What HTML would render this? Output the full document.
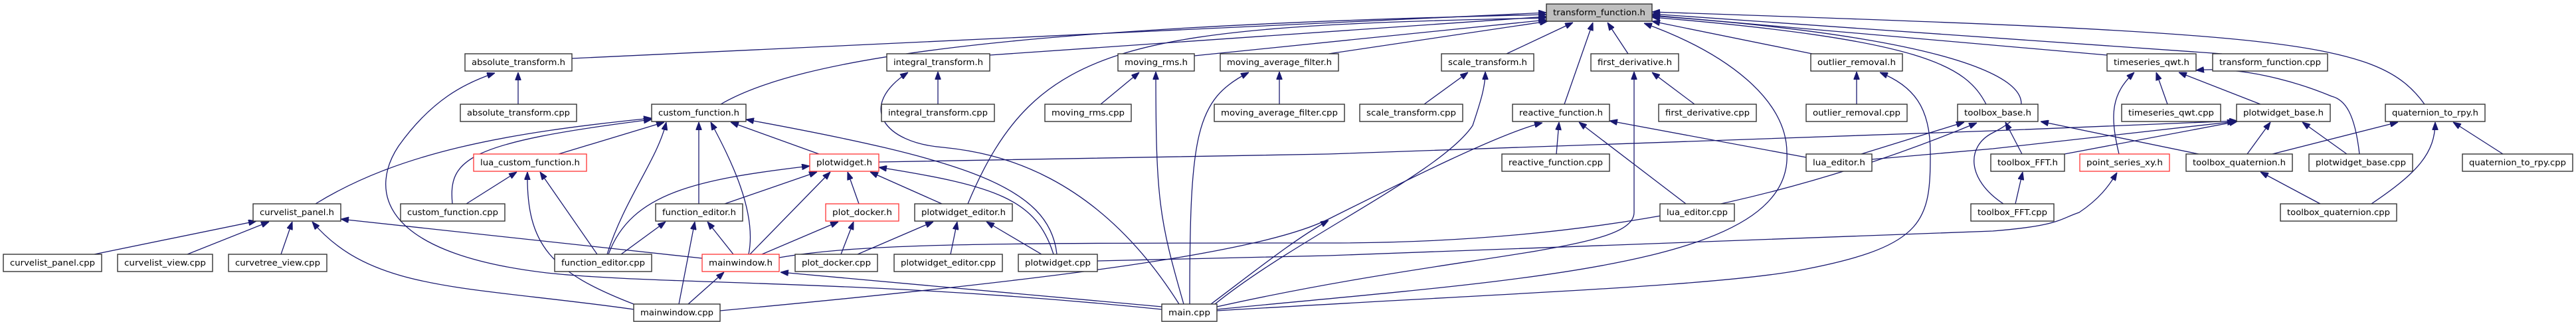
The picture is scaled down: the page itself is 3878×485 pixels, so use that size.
<!DOCTYPE html>
<html><head><meta charset="utf-8"><style>
html,body{margin:0;padding:0;background:#fff;width:3878px;height:485px;overflow:hidden}
svg{display:block}
text{font-family:"DejaVu Sans","Liberation Sans",sans-serif;font-size:12px;fill:#000}
.e{fill:none;stroke:#191970;stroke-width:1.3;marker-end:url(#a)}
.n{fill:#fff;stroke:#333;stroke-width:1.4}
.r{fill:#fff;stroke:#ff3333;stroke-width:1.3}
</style></head><body>
<svg width="3878" height="485" viewBox="0 0 3878 485" xmlns="http://www.w3.org/2000/svg">
<defs><marker id="a" markerUnits="userSpaceOnUse" viewBox="0 0 12 9" refX="12" refY="4.5" markerWidth="12" markerHeight="9" orient="auto"><path d="M0,0 L12,4.5 L0,9z" fill="#191970" stroke="#191970"/></marker></defs>
<g>
<path class="e" d="M861 88 L2328 19"/>
<path class="e" d="M1085 157 C1200 90,1500 40,2328 22"/>
<path class="e" d="M1490 83 L2328 25"/>
<path class="e" d="M1457 307 C1560 60,1700 40,2328 27"/>
<path class="e" d="M1798 84 L2328 30"/>
<path class="e" d="M2000 81 L2330 32"/>
<path class="e" d="M2268 81 L2368 34"/>
<path class="e" d="M2355 157 L2398 34"/>
<path class="e" d="M2451 81 L2420 34"/>
<path class="e" d="M1832 466 C2300 420,2700 400,2690 230 C2690 150,2600 80,2475 35"/>
<path class="e" d="M2728 81 L2487 32"/>
<path class="e" d="M2990 157 C2960 100,2900 60,2487 26"/>
<path class="e" d="M3016 307 C2960 270,2960 220,3000 200 C3120 140,3000 60,2487 24"/>
<path class="e" d="M3172 83 L2487 23"/>
<path class="e" d="M3345 81 L2487 21"/>
<path class="e" d="M3650 157 C3580 60,3450 50,2487 18"/>
<path class="e" d="M780 157 L780 109"/>
<path class="e" d="M1749 466 C1300 420,1000 430,823 411 C560 380,560 280,600 220 C650 150,700 125,745 110"/>
<path class="e" d="M475 307 C600 230,760 200,981 178"/>
<path class="e" d="M681 307 C675 240,700 215,981 180"/>
<path class="e" d="M841 232 L1000 184"/>
<path class="e" d="M914 383 C940 300,990 240,1003 184"/>
<path class="e" d="M1052 307 L1052 184"/>
<path class="e" d="M1127 383 C1140 320,1100 240,1070 184"/>
<path class="e" d="M1233 232 L1100 184"/>
<path class="e" d="M1591 383 C1580 280,1450 240,1123 180"/>
<path class="e" d="M702 307 L778 259"/>
<path class="e" d="M899 383 L813 259"/>
<path class="e" d="M954 458 C830 410,792 370,794 259"/>
<path class="e" d="M142 383 L386 333"/>
<path class="e" d="M282 383 L405 334"/>
<path class="e" d="M423 383 L440 334"/>
<path class="e" d="M954 466 C700 430,560 440,470 334"/>
<path class="e" d="M1057 389 L513 330"/>
<path class="e" d="M935 383 L1002 334"/>
<path class="e" d="M1022 458 L1046 334"/>
<path class="e" d="M1104 383 L1065 334"/>
<path class="e" d="M916 383 C950 290,1050 270,1219 250"/>
<path class="e" d="M1091 307 L1230 259"/>
<path class="e" d="M1129 383 L1250 259"/>
<path class="e" d="M1293 307 L1276 259"/>
<path class="e" d="M1418 307 L1310 259"/>
<path class="e" d="M1586 383 C1560 300,1500 280,1323 252"/>
<path class="e" d="M1323 244 L2000 232 L3000 197 L3368 182"/>
<path class="e" d="M1036 458 L1090 410"/>
<path class="e" d="M1749 462 L1175 410"/>
<path class="e" d="M1147 383 L1262 334"/>
<path class="e" d="M1266 383 L1285 334"/>
<path class="e" d="M1291 383 L1405 334"/>
<path class="e" d="M1431 383 L1441 334"/>
<path class="e" d="M1568 383 L1485 334"/>
<path class="e" d="M1412 157 L1412 108"/>
<path class="e" d="M1775 458 C1650 260,1500 230,1420 222 C1330 215,1290 160,1367 109"/>
<path class="e" d="M1657 157 L1715 109"/>
<path class="e" d="M1782 458 C1745 330,1740 300,1740 108"/>
<path class="e" d="M1926 157 L1926 108"/>
<path class="e" d="M1791 458 C1791 200,1800 150,1880 109"/>
<path class="e" d="M2144 157 L2210 109"/>
<path class="e" d="M1829 458 C1950 360,2170 260,2217 189 C2230 150,2236 130,2236 108"/>
<path class="e" d="M2551 157 L2487 109"/>
<path class="e" d="M1832 462 C2200 380,2460 380,2460 320 L2460 108"/>
<path class="e" d="M2343 232 L2347 184"/>
<path class="e" d="M2538 307 L2377 184"/>
<path class="e" d="M2719 237 L2423 182"/>
<path class="e" d="M1084 468 C1600 420,1900 380,2000 330 C2120 270,2260 200,2322 185"/>
<path class="e" d="M1823 458 C1900 400,1950 360,2000 332"/>
<path class="e" d="M1173 388 C1300 366,1500 366,2000 366 C2400 366,2700 300,2976 185"/>
<path class="e" d="M2795 157 L2795 108"/>
<path class="e" d="M1832 468 C2300 440,2600 430,2720 405 C2900 370,2906 330,2906 230 C2906 160,2880 130,2830 109"/>
<path class="e" d="M2802 232 L2957 184"/>
<path class="e" d="M3044 232 L3019 184"/>
<path class="e" d="M3310 232 L3072 183"/>
<path class="e" d="M2818 240 L3000 224 L3365 183"/>
<path class="e" d="M3108 232 L3368 183"/>
<path class="e" d="M3383 232 L3418 184"/>
<path class="e" d="M3533 232 L3466 184"/>
<path class="e" d="M3190 232 C3175 170,3180 140,3213 109"/>
<path class="e" d="M3263 157 L3246 109"/>
<path class="e" d="M3403 157 L3280 109"/>
<path class="e" d="M3552 232 C3545 170,3530 150,3510 145 C3450 120,3370 100,3306 106"/>
<path class="e" d="M1652 393 L2000 385 L3000 348 C3100 340,3100 330,3130 320 C3160 300,3175 280,3187 260"/>
<path class="e" d="M3034 307 L3045 259"/>
<path class="e" d="M3421 232 L3610 184"/>
<path class="e" d="M3768 232 L3693 184"/>
<path class="e" d="M3570 307 C3640 260,3666 230,3666 184"/>
<path class="e" d="M3493 307 L3403 259"/>
</g>
<g>
<rect x="2328" y="6" width="159" height="26" fill="#bfbfbf" stroke="#333" stroke-width="1.4"/><text x="2407.5" y="23" text-anchor="middle" textLength="139" lengthAdjust="spacingAndGlyphs">transform_function.h</text>
<rect class="n" x="700" y="81" width="161" height="26"/><text x="780.5" y="98" text-anchor="middle" textLength="141" lengthAdjust="spacingAndGlyphs">absolute_transform.h</text>
<rect class="n" x="1335" y="81" width="155" height="26"/><text x="1412.5" y="98" text-anchor="middle" textLength="135" lengthAdjust="spacingAndGlyphs">integral_transform.h</text>
<rect class="n" x="1683" y="81" width="115" height="26"/><text x="1740.5" y="98" text-anchor="middle" textLength="95" lengthAdjust="spacingAndGlyphs">moving_rms.h</text>
<rect class="n" x="1837" y="81" width="178" height="26"/><text x="1926" y="98" text-anchor="middle" textLength="158" lengthAdjust="spacingAndGlyphs">moving_average_filter.h</text>
<rect class="n" x="2170" y="81" width="139" height="26"/><text x="2239.5" y="98" text-anchor="middle" textLength="119" lengthAdjust="spacingAndGlyphs">scale_transform.h</text>
<rect class="n" x="2395" y="81" width="132" height="26"/><text x="2461" y="98" text-anchor="middle" textLength="112" lengthAdjust="spacingAndGlyphs">first_derivative.h</text>
<rect class="n" x="2726" y="81" width="138" height="26"/><text x="2795" y="98" text-anchor="middle" textLength="118" lengthAdjust="spacingAndGlyphs">outlier_removal.h</text>
<rect class="n" x="3172" y="81" width="134" height="26"/><text x="3239" y="98" text-anchor="middle" textLength="114" lengthAdjust="spacingAndGlyphs">timeseries_qwt.h</text>
<rect class="n" x="3331" y="81" width="173" height="26"/><text x="3417.5" y="98" text-anchor="middle" textLength="153" lengthAdjust="spacingAndGlyphs">transform_function.cpp</text>
<rect class="n" x="693" y="157" width="175" height="26"/><text x="780.5" y="174" text-anchor="middle" textLength="155" lengthAdjust="spacingAndGlyphs">absolute_transform.cpp</text>
<rect class="n" x="981" y="157" width="142" height="26"/><text x="1052" y="174" text-anchor="middle" textLength="122" lengthAdjust="spacingAndGlyphs">custom_function.h</text>
<rect class="n" x="1327" y="157" width="170" height="26"/><text x="1412" y="174" text-anchor="middle" textLength="150" lengthAdjust="spacingAndGlyphs">integral_transform.cpp</text>
<rect class="n" x="1573" y="157" width="130" height="26"/><text x="1638" y="174" text-anchor="middle" textLength="110" lengthAdjust="spacingAndGlyphs">moving_rms.cpp</text>
<rect class="n" x="1828" y="157" width="196" height="26"/><text x="1926" y="174" text-anchor="middle" textLength="176" lengthAdjust="spacingAndGlyphs">moving_average_filter.cpp</text>
<rect class="n" x="2047" y="157" width="155" height="26"/><text x="2124.5" y="174" text-anchor="middle" textLength="135" lengthAdjust="spacingAndGlyphs">scale_transform.cpp</text>
<rect class="n" x="2277" y="157" width="146" height="26"/><text x="2350" y="174" text-anchor="middle" textLength="126" lengthAdjust="spacingAndGlyphs">reactive_function.h</text>
<rect class="n" x="2497" y="157" width="147" height="26"/><text x="2570.5" y="174" text-anchor="middle" textLength="127" lengthAdjust="spacingAndGlyphs">first_derivative.cpp</text>
<rect class="n" x="2719" y="157" width="152" height="26"/><text x="2795" y="174" text-anchor="middle" textLength="132" lengthAdjust="spacingAndGlyphs">outlier_removal.cpp</text>
<rect class="n" x="2947" y="157" width="121" height="26"/><text x="3007.5" y="174" text-anchor="middle" textLength="101" lengthAdjust="spacingAndGlyphs">toolbox_base.h</text>
<rect class="n" x="3194" y="157" width="149" height="26"/><text x="3268.5" y="174" text-anchor="middle" textLength="129" lengthAdjust="spacingAndGlyphs">timeseries_qwt.cpp</text>
<rect class="n" x="3367" y="157" width="141" height="26"/><text x="3437.5" y="174" text-anchor="middle" textLength="121" lengthAdjust="spacingAndGlyphs">plotwidget_base.h</text>
<rect class="n" x="3591" y="157" width="150" height="26"/><text x="3666" y="174" text-anchor="middle" textLength="130" lengthAdjust="spacingAndGlyphs">quaternion_to_rpy.h</text>
<rect class="r" x="713" y="232" width="170" height="26"/><text x="798" y="249" text-anchor="middle" textLength="150" lengthAdjust="spacingAndGlyphs">lua_custom_function.h</text>
<rect class="r" x="1219" y="232" width="104" height="26"/><text x="1271" y="249" text-anchor="middle" textLength="84" lengthAdjust="spacingAndGlyphs">plotwidget.h</text>
<rect class="n" x="2261" y="232" width="162" height="26"/><text x="2342" y="249" text-anchor="middle" textLength="142" lengthAdjust="spacingAndGlyphs">reactive_function.cpp</text>
<rect class="n" x="2719" y="232" width="99" height="26"/><text x="2768.5" y="249" text-anchor="middle" textLength="79" lengthAdjust="spacingAndGlyphs">lua_editor.h</text>
<rect class="n" x="2997" y="232" width="111" height="26"/><text x="3052.5" y="249" text-anchor="middle" textLength="91" lengthAdjust="spacingAndGlyphs">toolbox_FFT.h</text>
<rect class="r" x="3131" y="232" width="135" height="26"/><text x="3198.5" y="249" text-anchor="middle" textLength="115" lengthAdjust="spacingAndGlyphs">point_series_xy.h</text>
<rect class="n" x="3291" y="232" width="160" height="26"/><text x="3371" y="249" text-anchor="middle" textLength="140" lengthAdjust="spacingAndGlyphs">toolbox_quaternion.h</text>
<rect class="n" x="3476" y="232" width="156" height="26"/><text x="3554" y="249" text-anchor="middle" textLength="136" lengthAdjust="spacingAndGlyphs">plotwidget_base.cpp</text>
<rect class="n" x="3707" y="232" width="166" height="26"/><text x="3790" y="249" text-anchor="middle" textLength="146" lengthAdjust="spacingAndGlyphs">quaternion_to_rpy.cpp</text>
<rect class="n" x="381" y="307" width="132" height="26"/><text x="447" y="324" text-anchor="middle" textLength="112" lengthAdjust="spacingAndGlyphs">curvelist_panel.h</text>
<rect class="n" x="603" y="307" width="157" height="26"/><text x="681.5" y="324" text-anchor="middle" textLength="137" lengthAdjust="spacingAndGlyphs">custom_function.cpp</text>
<rect class="n" x="987" y="307" width="131" height="26"/><text x="1052.5" y="324" text-anchor="middle" textLength="111" lengthAdjust="spacingAndGlyphs">function_editor.h</text>
<rect class="r" x="1243" y="307" width="110" height="26"/><text x="1298" y="324" text-anchor="middle" textLength="90" lengthAdjust="spacingAndGlyphs">plot_docker.h</text>
<rect class="n" x="1377" y="307" width="147" height="26"/><text x="1450.5" y="324" text-anchor="middle" textLength="127" lengthAdjust="spacingAndGlyphs">plotwidget_editor.h</text>
<rect class="n" x="2499" y="307" width="112" height="26"/><text x="2555" y="324" text-anchor="middle" textLength="92" lengthAdjust="spacingAndGlyphs">lua_editor.cpp</text>
<rect class="n" x="2967" y="307" width="125" height="26"/><text x="3029.5" y="324" text-anchor="middle" textLength="105" lengthAdjust="spacingAndGlyphs">toolbox_FFT.cpp</text>
<rect class="n" x="3433" y="307" width="175" height="26"/><text x="3520.5" y="324" text-anchor="middle" textLength="155" lengthAdjust="spacingAndGlyphs">toolbox_quaternion.cpp</text>
<rect class="n" x="5" y="383" width="148" height="26"/><text x="79" y="400" text-anchor="middle" textLength="128" lengthAdjust="spacingAndGlyphs">curvelist_panel.cpp</text>
<rect class="n" x="177" y="383" width="143" height="26"/><text x="248.5" y="400" text-anchor="middle" textLength="123" lengthAdjust="spacingAndGlyphs">curvelist_view.cpp</text>
<rect class="n" x="344" y="383" width="148" height="26"/><text x="418" y="400" text-anchor="middle" textLength="128" lengthAdjust="spacingAndGlyphs">curvetree_view.cpp</text>
<rect class="n" x="835" y="383" width="146" height="26"/><text x="908" y="400" text-anchor="middle" textLength="126" lengthAdjust="spacingAndGlyphs">function_editor.cpp</text>
<rect class="r" x="1057" y="383" width="116" height="26"/><text x="1115" y="400" text-anchor="middle" textLength="96" lengthAdjust="spacingAndGlyphs">mainwindow.h</text>
<rect class="n" x="1197" y="383" width="124" height="26"/><text x="1259" y="400" text-anchor="middle" textLength="104" lengthAdjust="spacingAndGlyphs">plot_docker.cpp</text>
<rect class="n" x="1346" y="383" width="163" height="26"/><text x="1427.5" y="400" text-anchor="middle" textLength="143" lengthAdjust="spacingAndGlyphs">plotwidget_editor.cpp</text>
<rect class="n" x="1533" y="383" width="119" height="26"/><text x="1592.5" y="400" text-anchor="middle" textLength="99" lengthAdjust="spacingAndGlyphs">plotwidget.cpp</text>
<rect class="n" x="954" y="458" width="130" height="26"/><text x="1019" y="475" text-anchor="middle" textLength="110" lengthAdjust="spacingAndGlyphs">mainwindow.cpp</text>
<rect class="n" x="1749" y="458" width="83" height="26"/><text x="1790.5" y="475" text-anchor="middle" textLength="63" lengthAdjust="spacingAndGlyphs">main.cpp</text>
</g>
</svg>
</body></html>
